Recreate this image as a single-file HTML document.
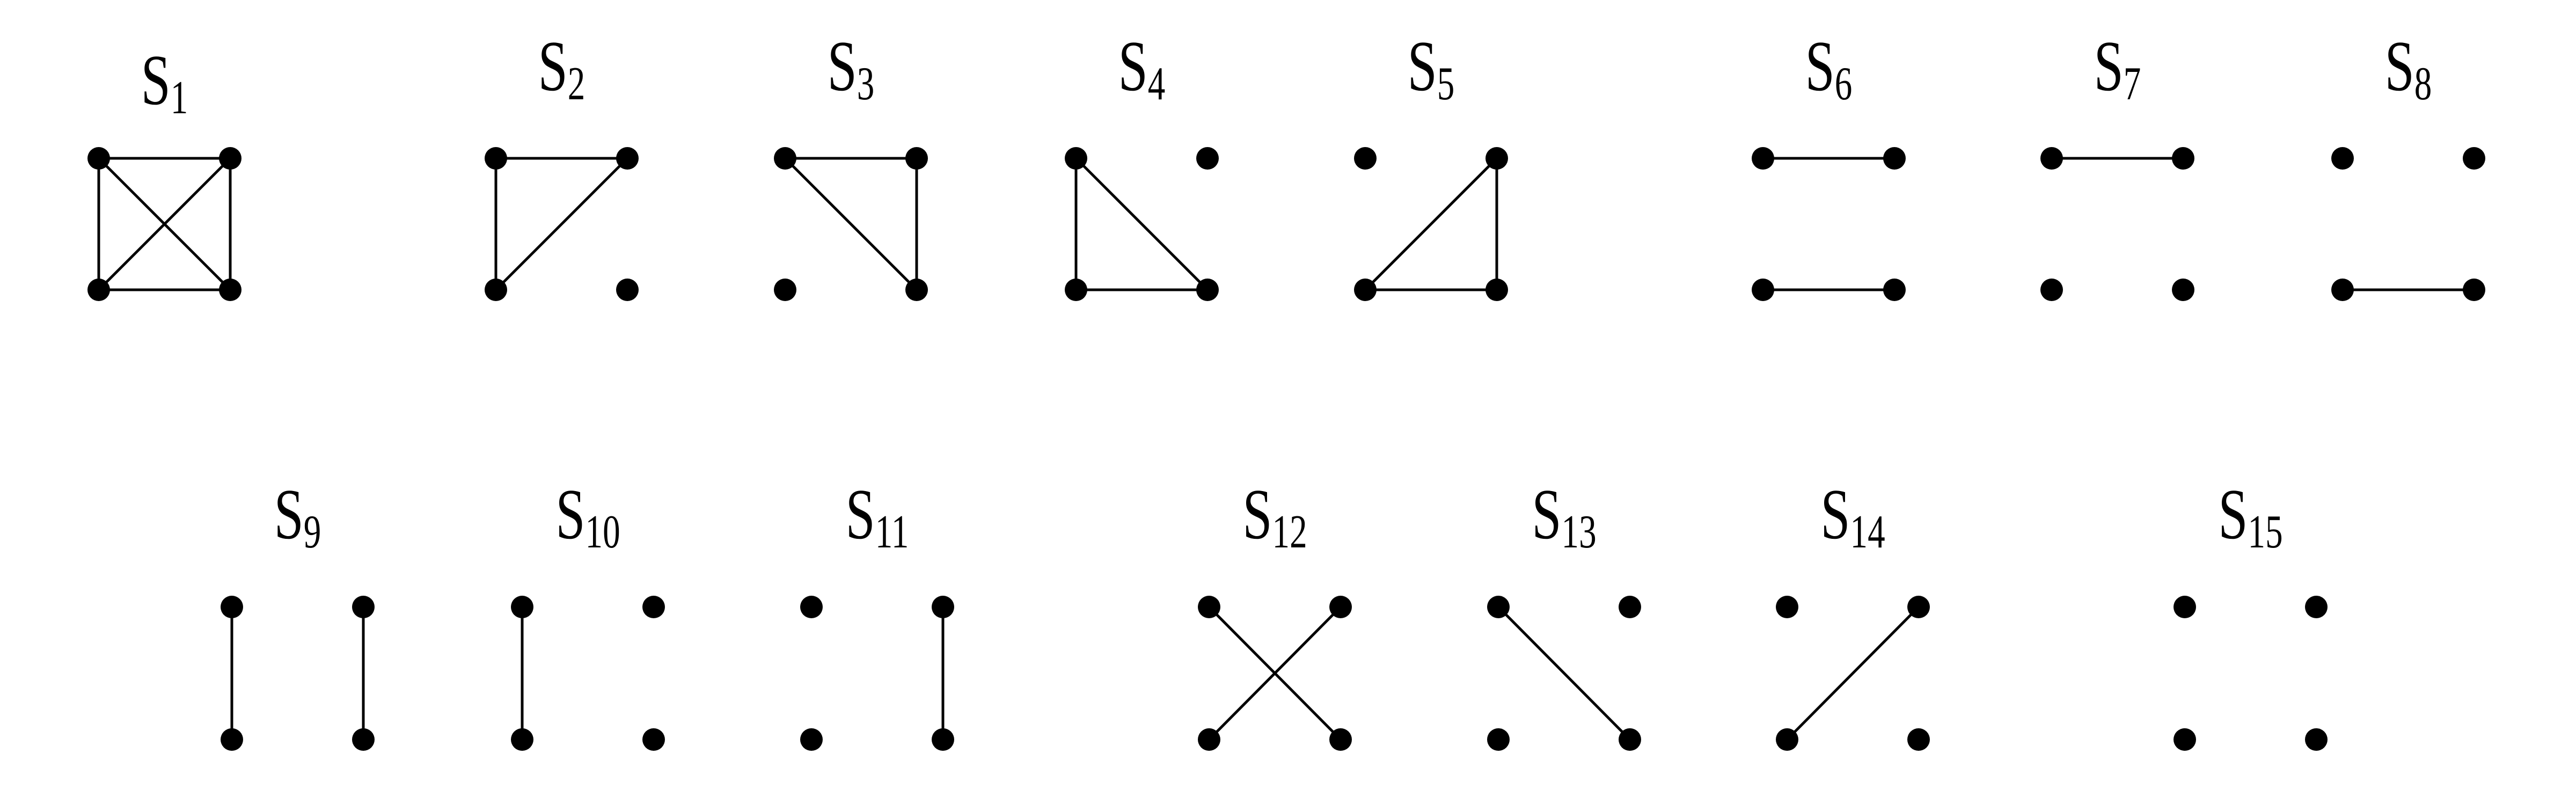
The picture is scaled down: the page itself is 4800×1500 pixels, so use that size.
<!DOCTYPE html>
<html><head><meta charset="utf-8"><style>
html,body{margin:0;padding:0;background:#fff;}
svg{display:block;}
</style></head>
<body>
<svg id="chart" width="4800" height="1500" viewBox="0 0 4800 1500" xmlns="http://www.w3.org/2000/svg">
<rect width="4800" height="1500" fill="#fff"/>
</svg>
<script>
// graph labels (subscript index)
const labels = ["1","2","3","4","5","6","7","8","9","10","11","12","13","14","15"];
// row of each graph (0 top, 1 bottom)
const rows = [0,0,0,0,0,0,0,0,1,1,1,1,1,1,1];
// left column x of each graph
const leftX = [184,924,1463,2005,2544,3285,3823,4365,432,973,1512,2253,2792,3330,4071];
// edges: node indices 0=TL,1=TR,2=BL,3=BR
const edges = [
  [[0,1],[2,3],[0,2],[1,3],[0,3],[1,2]],
  [[0,1],[0,2],[1,2]],
  [[0,1],[0,3],[1,3]],
  [[0,2],[2,3],[0,3]],
  [[1,3],[2,3],[1,2]],
  [[0,1],[2,3]],
  [[0,1]],
  [[2,3]],
  [[0,2],[1,3]],
  [[0,2]],
  [[1,3]],
  [[0,3],[1,2]],
  [[0,3]],
  [[1,2]],
  []
];
const W = 245;
const rowTop = [295,1131];
const rowBot = [540,1378];
const labelBase = [168,1003];
const NS = "http://www.w3.org/2000/svg";
const svg = document.getElementById('chart');
function mk(tag, attrs){ const e=document.createElementNS(NS,tag); for(const k in attrs) e.setAttribute(k,attrs[k]); return e; }

labels.forEach((lab,i)=>{
  const r = rows[i];
  const xs=[leftX[i], leftX[i]+W, leftX[i], leftX[i]+W];
  const ys=[rowTop[r], rowTop[r], rowBot[r], rowBot[r]];
  const g = mk('g',{});
  
  
  edges[i].forEach(([a,b])=>{
    const l = mk('line',{x1:xs[a],y1:ys[a],x2:xs[b],y2:ys[b],stroke:'#000','stroke-width':5});
    
    
    g.appendChild(l);
  });
  for(let k=0;k<4;k++){
    const c = mk('circle',{cx:xs[k],cy:ys[k],r:21,fill:'#000'});
    
    
    g.appendChild(c);
  }
  const cx = leftX[i]+W/2;
  const base = (i===0) ? 194 : labelBase[r];
  const t = mk('text',{transform:`translate(${cx},${base}) scale(0.74,1)`,'text-anchor':'middle','font-family':'"Liberation Serif", "DejaVu Serif", serif','font-size':134,fill:'#000'});
  
  
  const s1 = mk('tspan',{}); s1.textContent='S';
  const s2 = mk('tspan',{'font-size':88,dy:17}); s2.textContent=lab;
  t.appendChild(s1); t.appendChild(s2);
  g.appendChild(t);
  svg.appendChild(g);
});
</script>
</body></html>
